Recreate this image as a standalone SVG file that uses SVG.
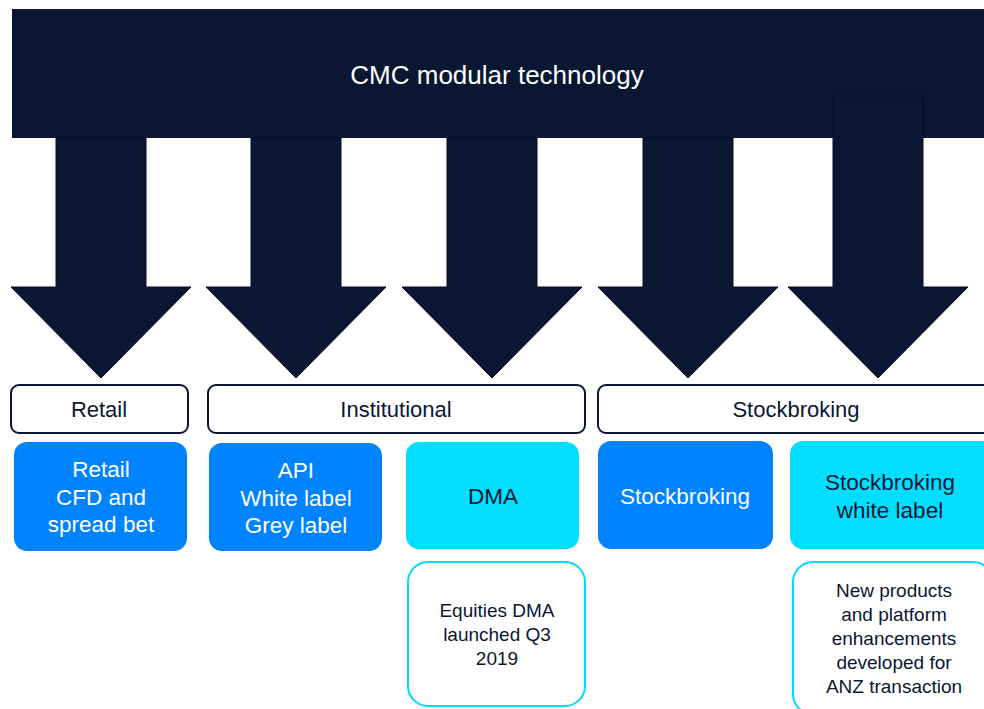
<svg xmlns="http://www.w3.org/2000/svg" width="984" height="709" viewBox="0 0 984 709">
<style>
text{font-family:"Liberation Sans",Arial,sans-serif;text-anchor:middle}
.arrow{fill:#0a1733;stroke:#050d22;stroke-width:1}
.cat{fill:#fff;stroke:#0a1733;stroke-width:2}
.cat-t{fill:#0a1733;font-size:22px}
.blue{fill:#0083ff}
.cyan{fill:#00dfff}
.wt{fill:#fff;font-size:22.5px}
.dt{fill:#0a1733;font-size:22.5px}
.note{fill:#fff;stroke:#00d9ff;stroke-width:2}
.nt{fill:#0a1733;font-size:19px}
</style>
<g id="connectors">
<rect x="12" y="9" width="980" height="129" fill="#0a1733"/>
<path class="arrow" d="M56 138 H146 V287 H191 L101 378 L11 287 H56 Z"/>
<path class="arrow" d="M251 138 H341 V287 H386 L296 378 L206 287 H251 Z"/>
<path class="arrow" d="M447 138 H537 V287 H582 L492 378 L402 287 H447 Z"/>
<path class="arrow" d="M643 138 H733 V287 H778 L688 378 L598 287 H643 Z"/>
<path class="arrow" d="M833 96 H923 V287 H968 L878 378 L788 287 H833 Z"/>
</g>
<g id="top">
<text x="497" y="84" fill="#fff" font-size="26">CMC modular technology</text>
</g>
<g id="cat-retail">
<rect class="cat" x="11" y="385" width="177" height="48" rx="8"/>
<text class="cat-t" x="99" y="417">Retail</text>
</g>
<g id="cat-institutional">
<rect class="cat" x="208" y="385" width="377" height="48" rx="8"/>
<text class="cat-t" x="396" y="417">Institutional</text>
</g>
<g id="cat-stockbroking">
<rect class="cat" x="598" y="385" width="396" height="48" rx="8"/>
<text class="cat-t" x="796" y="417">Stockbroking</text>
</g>
<g id="retail">
<rect class="blue" x="14" y="442" width="173" height="109" rx="13"/>
<text class="wt" x="101" y="477">Retail</text>
<text class="wt" x="101" y="505">CFD and</text>
<text class="wt" x="101" y="532">spread bet</text>
</g>
<g id="api">
<rect class="blue" x="209" y="443" width="173" height="108" rx="13"/>
<text class="wt" x="296" y="478">API</text>
<text class="wt" x="296" y="506">White label</text>
<text class="wt" x="296" y="533">Grey label</text>
</g>
<g id="dma">
<rect class="cyan" x="406" y="442" width="173" height="107" rx="13"/>
<text class="dt" x="493" y="504">DMA</text>
</g>
<g id="stockbroking">
<rect class="blue" x="598" y="441" width="175" height="108" rx="13"/>
<text class="wt" x="685" y="504">Stockbroking</text>
</g>
<g id="sb-white-label">
<rect class="cyan" x="790" y="441" width="204" height="108" rx="13"/>
<text class="dt" x="890" y="490">Stockbroking</text>
<text class="dt" x="890" y="518">white label</text>
</g>
<g id="equities-note">
<rect class="note" x="408" y="562" width="177" height="144" rx="20"/>
<text class="nt" x="497" y="617">Equities DMA</text>
<text class="nt" x="497" y="641">launched Q3</text>
<text class="nt" x="497" y="665">2019</text>
</g>
<g id="anz-note">
<rect class="note" x="793" y="562" width="200" height="152" rx="20"/>
<text class="nt" x="894" y="597">New products</text>
<text class="nt" x="894" y="621">and platform</text>
<text class="nt" x="894" y="645">enhancements</text>
<text class="nt" x="894" y="669">developed for</text>
<text class="nt" x="894" y="693">ANZ transaction</text>
</g>
</svg>
